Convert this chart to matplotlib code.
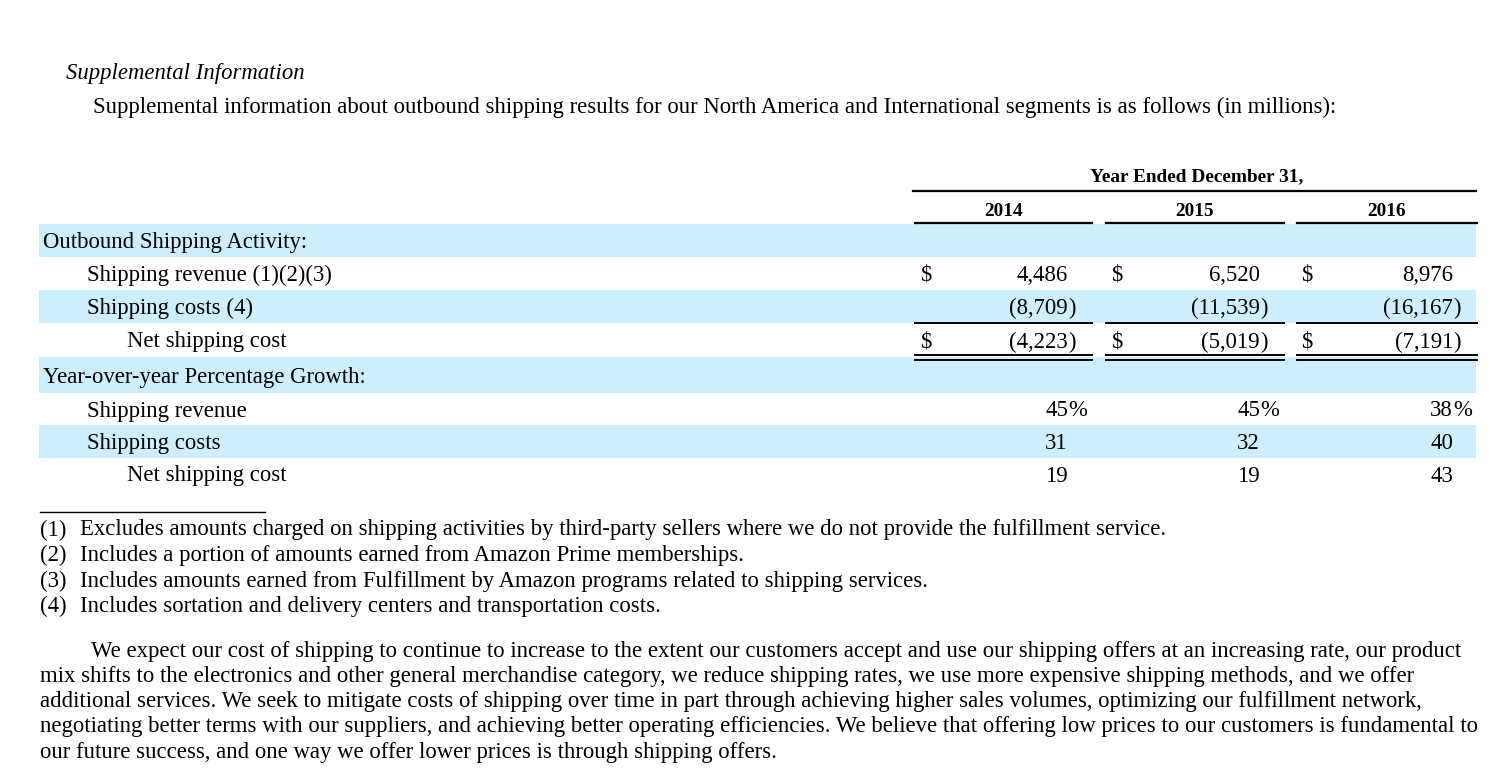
import matplotlib.pyplot as plt

# table data (in millions)
years = ['2014', '2015', '2016']
shipping_revenue = [4486, 6520, 8976]
shipping_costs = [-8709, -11539, -16167]
net_shipping_cost = [-4223, -5019, -7191]
growth_revenue = [45, 45, 38]
growth_costs = [31, 32, 40]
growth_net = [19, 19, 43]

footnotes = [
    'Excludes amounts charged on shipping activities by third-party sellers where we do not provide the fulfillment service.',
    'Includes a portion of amounts earned from Amazon Prime memberships.',
    'Includes amounts earned from Fulfillment by Amazon programs related to shipping services.',
    'Includes sortation and delivery centers and transportation costs.',
]
paragraph = [
    'We expect our cost of shipping to continue to increase to the extent our customers accept and use our shipping offers at an increasing rate, our product',
    'mix shifts to the electronics and other general merchandise category, we reduce shipping rates, we use more expensive shipping methods, and we offer',
    'additional services. We seek to mitigate costs of shipping over time in part through achieving higher sales volumes, optimizing our fulfillment network,',
    'negotiating better terms with our suppliers, and achieving better operating efficiencies. We believe that offering low prices to our customers is fundamental to',
    'our future success, and one way we offer lower prices is through shipping offers.',
]

plt.rcParams['font.family'] = ['Liberation Serif', 'DejaVu Serif']
FS = 16.4
HFS = 13.9
BAND = '#cdeefd'
DY = 2  # small nudge so text sits like the reference

fig = plt.figure(figsize=(15.03, 7.8), dpi=100)
ax = fig.add_axes([0, 0, 1, 1])
ax.set_xlim(0, 1503)
ax.set_ylim(780, 0)
ax.axis('off')

# title
ax.text(66, 71 + DY, 'Supplemental Information', style='italic', fontsize=FS, va='center')
ax.text(93, 105 + DY, 'Supplemental information about outbound shipping results for our North America '
        'and International segments is as follows (in millions):', fontsize=FS, va='center')

# header
ax.text(1197, 175 + DY, 'Year Ended December 31,', fontsize=HFS, fontweight='bold', ha='center', va='center')
ax.plot([913, 1476], [191, 191], color='black', lw=1.6)
col_seg = [(915, 1092), (1106, 1284), (1297, 1477)]
col_dollar = [920, 1111, 1301]
col_right = [1068, 1260, 1453]
for (x0, x1), yr in zip(col_seg, years):
    ax.text((x0 + x1) / 2, 209 + DY, yr, fontsize=HFS, fontweight='bold', ha='center', va='center')
    ax.plot([x0, x1], [223, 223], color='black', lw=1.6)

# rows: (label, indent, values, dollar, kind, y top, y bottom, band)
rows = [
    ('Outbound Shipping Activity:', 43, None, False, None, 224, 257, True),
    ('Shipping revenue (1)(2)(3)', 87, shipping_revenue, True, 'num', 257, 290, False),
    ('Shipping costs (4)', 87, shipping_costs, False, 'num', 290, 323, True),
    ('Net shipping cost', 127, net_shipping_cost, True, 'num', 323, 357, False),
    ('Year-over-year Percentage Growth:', 43, None, False, None, 357, 393, True),
    ('Shipping revenue', 87, growth_revenue, False, 'pct', 393, 425, False),
    ('Shipping costs', 87, growth_costs, False, 'pct0', 425, 458, True),
    ('Net shipping cost', 127, growth_net, False, 'pct0', 458, 490, False),
]

for label, indent, vals, dollar, kind, y0, y1, band in rows:
    yc = (y0 + y1) / 2 + DY
    if band:
        ax.fill_between([39, 1476], y0, y1, color=BAND, lw=0)
    ax.text(indent, yc, label, fontsize=FS, va='center')
    if vals is None:
        continue
    for i, v in enumerate(vals):
        if dollar:
            ax.text(col_dollar[i], yc, '$', fontsize=FS, va='center')
        if kind == 'num':
            s = f'{abs(v):,}'
            if v < 0:
                s = '(' + s
                ax.text(col_right[i], yc, ')', fontsize=FS, va='center', ha='left')
        else:
            s = str(v)
            if kind == 'pct':
                ax.text(col_right[i], yc, '%', fontsize=FS, va='center', ha='left')
        ax.text(col_right[i], yc, s, fontsize=FS, va='center', ha='right')

# rules under costs and double rule under net cost
for x0, x1 in col_seg:
    ax.plot([x0, x1], [323, 323], color='black', lw=1.4)
    ax.plot([x0, x1], [355, 355], color='black', lw=1.4)
    ax.plot([x0, x1], [359.5, 359.5], color='black', lw=1.4)

# footnotes
ax.plot([40, 265], [512, 512], color='black', lw=1.0)
for k, note in enumerate(footnotes):
    y = 528 + k * 25.5 + DY
    ax.text(40, y, f'({k + 1})', fontsize=FS, va='center')
    ax.text(80, y, note, fontsize=FS, va='center')

# closing paragraph
for k, line in enumerate(paragraph):
    ax.text(91 if k == 0 else 40, 649 + k * 25.3 + DY, line, fontsize=FS, va='center')

fig.savefig('out.png', dpi=100)
